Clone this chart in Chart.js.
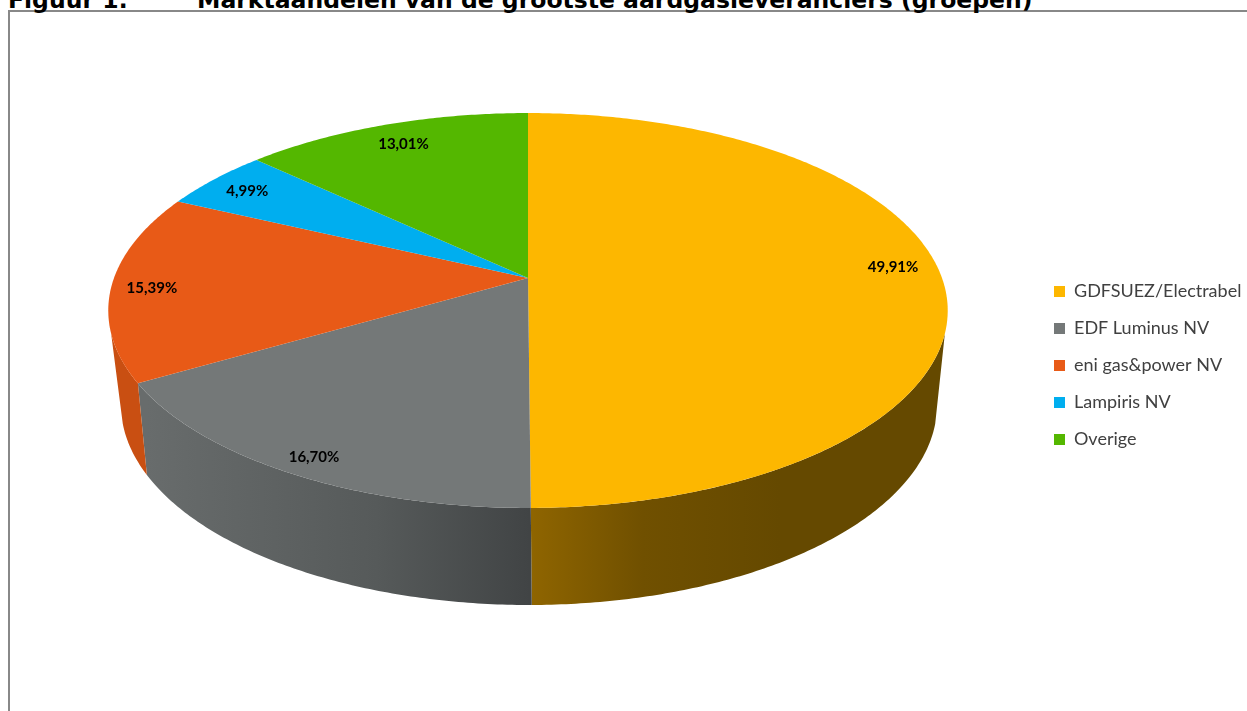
<!DOCTYPE html>
<html>
<head>
<meta charset="utf-8">
<script src="https://cdn.jsdelivr.net/npm/chart.js@4/dist/chart.umd.js"></script>
<style>
  html, body { margin: 0; padding: 0; background: #fff; overflow: hidden; }
  #page { position: relative; width: 1247px; height: 711px; overflow: hidden; }
  #frame { position: absolute; left: 8px; top: 10px; right: -5px; bottom: -5px;
           border-left: 2px solid #888; border-top: 2px solid #888; }
  .title { position: absolute; top: -14px; line-height: 24px; white-space: nowrap;
           font: bold 23.5px "DejaVu Sans", sans-serif; color: #000; }
  #chart { position: absolute; left: 0; top: 0; }
</style>
</head>
<body>
<div id="page">
  <div id="frame"></div>
  <div class="title" style="left: 8px">Figuur 1:</div>
  <div class="title" style="left: 197px">Marktaandelen van de grootste aardgasleveranciers (groepen)</div>
  <canvas id="chart" width="1247" height="711"></canvas>
</div>
<script>
const categories = ['GDFSUEZ/Electrabel', 'EDF Luminus NV', 'eni gas&power NV', 'Lampiris NV', 'Overige'];
const shares = [49.91, 16.70, 15.39, 4.99, 13.01];

const topColors = ['#FDB700', '#747878', '#E85A17', '#00AEEF', '#54B700'];

// perspective of the two rims, fitted on the reference
const topRim = { cx: 528, cy: 278, bx: 414, by: 192.1, k: -0.1646 };
const bottomRim = { cx: 529, cy: 367.8, bx: 401, by: 193.3, k: -0.185 };
const labelNudge = [[5, -10], [-10, 13], [-14, 3], [-5, 0], [2, 2]];

const project = (rim, angle, r = 1) => {
  const w = 1 + rim.k * r * Math.sin(angle);
  return [rim.cx + rim.bx * r * Math.cos(angle) / w, rim.cy + rim.by * r * Math.sin(angle) / w];
};

const traceRim = (ctx, rim, from, to) => {
  const steps = Math.max(2, Math.ceil(Math.abs(to - from) / 0.01));
  for (let s = 0; s <= steps; s++) {
    const p = project(rim, from + (to - from) * s / steps);
    ctx.lineTo(p[0], p[1]);
  }
};

const sideFill = (ctx, i) => {
  if (i === 0) {
    const g = ctx.createLinearGradient(530, 0, 947, 0);
    g.addColorStop(0, '#8F6500');
    g.addColorStop(0.27, '#705000');
    g.addColorStop(0.6, '#654900');
    g.addColorStop(1, '#654900');
    return g;
  }
  if (i === 1) {
    const g = ctx.createLinearGradient(147, 0, 530, 0);
    g.addColorStop(0, '#686C6C');
    g.addColorStop(0.6, '#565A5A');
    g.addColorStop(1, '#414445');
    return g;
  }
  return '#C94F12';
};

const pie3d = {
  id: 'pie3d',
  afterLayout(chart) {
    // legend box sits at x=1055 in the reference, labels run close to the edge
    chart.legend.left = 1035;
  },
  beforeDatasetDraw(chart, args) {
    const ctx = chart.ctx;
    const arcs = args.meta.data;
    const sideFrom = 16 * Math.PI / 180;
    const sideTo = 164 * Math.PI / 180;
    ctx.save();
    arcs.forEach((arc, i) => {
      const from = Math.max(arc.startAngle, sideFrom);
      const to = Math.min(arc.endAngle, sideTo);
      if (to <= from) return;
      ctx.beginPath();
      traceRim(ctx, topRim, from, to);
      traceRim(ctx, bottomRim, to, from);
      ctx.closePath();
      ctx.fillStyle = sideFill(ctx, i);
      ctx.fill();
    });
    arcs.forEach((arc, i) => {
      ctx.beginPath();
      ctx.moveTo(topRim.cx, topRim.cy);
      traceRim(ctx, topRim, arc.startAngle, arc.endAngle);
      ctx.closePath();
      ctx.fillStyle = topColors[i];
      ctx.fill();
    });
    ctx.font = 'bold 15px Lato, sans-serif';
    ctx.fillStyle = '#000';
    ctx.textAlign = 'center';
    ctx.textBaseline = 'middle';
    arcs.forEach((arc, i) => {
      const p = project(topRim, (arc.startAngle + arc.endAngle) / 2, 0.87);
      const text = shares[i].toFixed(2).replace('.', ',') + '%';
      ctx.fillText(text, p[0] + labelNudge[i][0], p[1] + labelNudge[i][1]);
    });
    ctx.restore();
    return false;
  }
};

new Chart(document.getElementById('chart'), {
  type: 'pie',
  data: {
    labels: categories,
    datasets: [{ data: shares, backgroundColor: topColors, borderWidth: 0 }]
  },
  options: {
    responsive: false,
    animation: false,
    events: [],
    layout: { padding: { top: 20, right: 0 } },
    plugins: {
      tooltip: { enabled: false },
      legend: {
        position: 'right',
        labels: {
          boxWidth: 11,
          boxHeight: 11,
          padding: 19,
          color: '#404040',
          font: { family: 'Lato, sans-serif', size: 18 }
        }
      }
    }
  },
  plugins: [pie3d]
});
</script>
</body>
</html>
